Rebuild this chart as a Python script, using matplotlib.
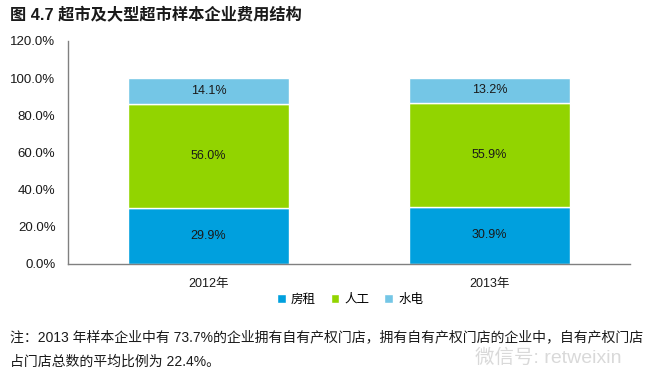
import matplotlib
matplotlib.use("Agg")
import matplotlib.pyplot as plt
from matplotlib.ticker import FuncFormatter, MultipleLocator

plt.rcParams['font.family'] = ['Liberation Sans', 'Noto Sans CJK SC', 'DejaVu Sans']

categories = ['2012年', '2013年']
series_names = ['房租', '人工', '水电']
rent = [29.9, 30.9]
labor = [56.0, 55.9]
utility = [14.1, 13.2]
colors = ['#00A0DE', '#92D400', '#74C6E6']

fig = plt.figure(figsize=(6.63, 3.83), dpi=100)
ax = fig.add_axes([68/663, 1-264/383, (630-68)/663, (264-41)/383])

x = list(range(len(categories)))
width = 0.57
bottoms = [0.0] * len(categories)
handles = []
for name, vals, c in zip(series_names, [rent, labor, utility], colors):
    vals_f = [v / 100 for v in vals]
    bars = ax.bar(x, vals_f, width, bottom=bottoms, color=c, edgecolor='white', linewidth=1, label=name)
    handles.append(bars)
    for xi, b, v in zip(x, bottoms, vals):
        ax.text(xi, b + v / 200, f'{v:.1f}%', ha='center', va='center', fontsize=9, color='#1a1a1a')
    bottoms = [b + v for b, v in zip(bottoms, vals_f)]

ax.set_xlim(-0.5, 1.5)
ax.set_ylim(0, 1.2)
ax.yaxis.set_major_locator(MultipleLocator(0.2))
ax.yaxis.set_major_formatter(FuncFormatter(lambda v, p: f'{v*100:.1f}%'))
ax.set_xticks(x)
ax.set_xticklabels(categories)
ax.tick_params(axis='both', length=0, labelsize=9, colors='#1a1a1a')
ax.tick_params(axis='y', labelsize=9.5, pad=9)
ax.tick_params(axis='x', pad=10)
for s in ['top', 'right']:
    ax.spines[s].set_visible(False)
for s in ['left', 'bottom']:
    ax.spines[s].set_color('#808080')
    ax.spines[s].set_linewidth(1)

leg = fig.legend(handles=handles, labels=series_names, loc='center', bbox_to_anchor=(350/663, 1-300/383),
                 ncol=3, frameon=False, fontsize=9, handlelength=0.7, handleheight=0.7,
                 handletextpad=0.4, columnspacing=1.2)

fig.text(10/663, 1-15/383, '图 4.7 超市及大型超市样本企业费用结构', fontsize=11.7, fontweight='bold',
         ha='left', va='center', color='#1a1a1a')
fig.text(10/663, 1-337/383, '注：2013 年样本企业中有 73.7%的企业拥有自有产权门店，拥有自有产权门店的企业中，自有产权门店',
         fontsize=10, ha='left', va='center', color='#1a1a1a')
fig.text(10/663, 1-362/383, '占门店总数的平均比例为 22.4%。',
         fontsize=10, ha='left', va='center', color='#1a1a1a')
fig.text(475/663, 1-358/383, '微信号: retweixin', fontsize=14, ha='left', va='center', color='#d0d0d0', alpha=0.8)

fig.savefig('out.png', dpi=100)
